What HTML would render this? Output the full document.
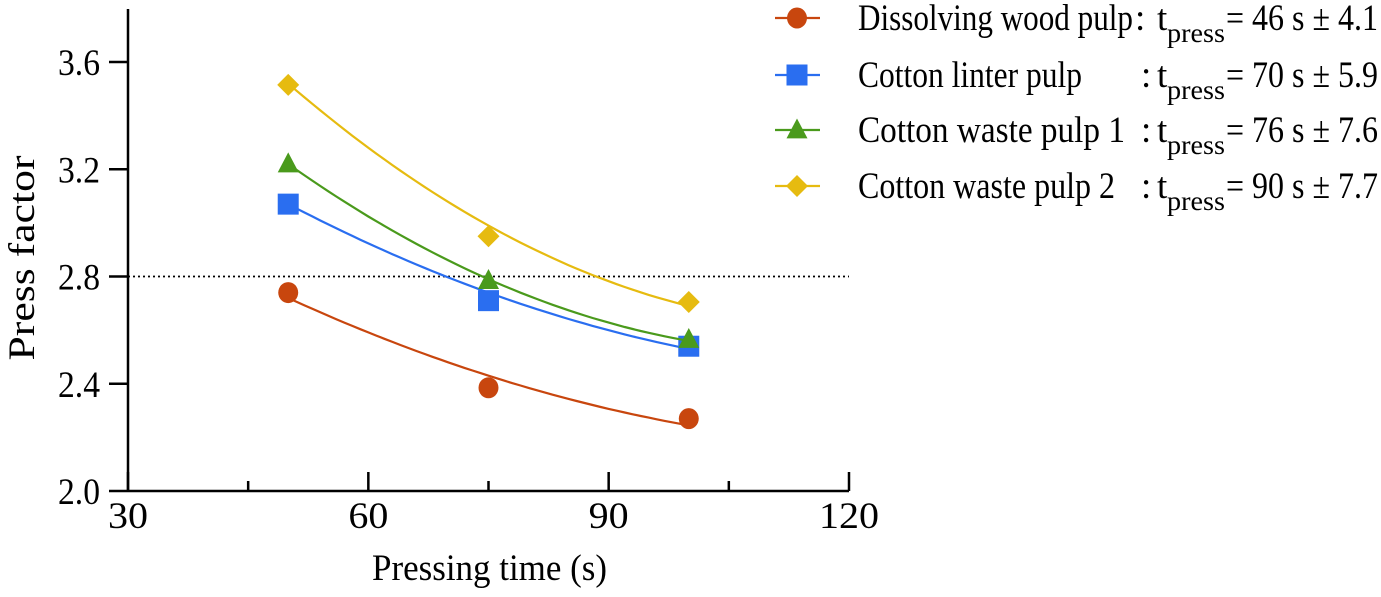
<!DOCTYPE html>
<html><head><meta charset="utf-8"><style>
body{margin:0;background:#fff;}
svg{display:block;font-family:"Liberation Serif",serif;}
</style></head><body>
<svg id="c" width="1381" height="597"></svg>
<script>
const categories=[50,75,100];
const seriesNames=["Dissolving wood pulp","Cotton linter pulp","Cotton waste pulp 1","Cotton waste pulp 2"];
const pointsOrange=[2.74,2.385,2.27];
const pointsBlue=[3.07,2.71,2.54];
const pointsGreen=[3.22,2.785,2.565];
const pointsYellow=[3.515,2.95,2.705];
const fitOrange=[2.72,2.43,2.245];
const fitBlue=[3.07,2.74,2.53];
const fitGreen=[3.22,2.79,2.56];
const fitYellow=[3.52,2.99,2.69];
const tpressVals=["46 s ± 4.1","70 s ± 5.9","76 s ± 7.6","90 s ± 7.7"];
const xTicks=[30,60,90,120];
const xMinor=[45,75,105];
const yTicks=[2.0,2.4,2.8,3.2,3.6];
const threshold=[2.8];

const NS="http://www.w3.org/2000/svg";
const svg=document.getElementById('c');
const X=v=>128+(v-30)*(721/90);
const Y=v=>491-(v-2)*268.1;
function el(t,a,p){const e=document.createElementNS(NS,t);for(const k in a)e.setAttribute(k,a[k]);(p||svg).appendChild(e);return e;}
const FS=37;
let a=el('line',{x1:128,y1:9,x2:128,y2:491,stroke:'#000','stroke-width':2.5});


a=el('line',{x1:128,y1:491,x2:849,y2:491,stroke:'#000','stroke-width':2.5});


xTicks.forEach(v=>{
 let t=el('line',{x1:X(v),y1:491,x2:X(v),y2:472,stroke:'#000','stroke-width':2.5});
 
 
 const s=String(v);
 let l=el('text',{x:X(v),y:528,'font-size':FS,'text-anchor':'middle',textLength:s.length*20,lengthAdjust:'spacingAndGlyphs'});l.textContent=s;
 
 
});
xMinor.forEach(v=>{
 let t=el('line',{x1:X(v),y1:491,x2:X(v),y2:481,stroke:'#000','stroke-width':2.5});
 
 
});
yTicks.forEach(v=>{
 let t=el('line',{x1:109,y1:Y(v),x2:128,y2:Y(v),stroke:'#000','stroke-width':2.5});
 
 
 let l=el('text',{x:100,y:Y(v)+13,'font-size':FS,'text-anchor':'end',textLength:42,lengthAdjust:'spacingAndGlyphs'});l.textContent=v.toFixed(1);
 
 
});
let tx=el('text',{x:372,y:580,'font-size':FS,textLength:235,lengthAdjust:'spacingAndGlyphs'});tx.textContent='Pressing time (s)';


let ty=el('text',{x:0,y:0,'font-size':FS,'text-anchor':'middle',textLength:205,lengthAdjust:'spacingAndGlyphs',transform:'translate(34,258) rotate(-90)'});ty.textContent='Press factor';


let th=el('line',{x1:128,y1:Y(threshold[0]),x2:849,y2:Y(threshold[0]),stroke:'#000','stroke-width':1.8,'stroke-dasharray':'2,3'});



const colors=['#c8460e','#2a6ef0','#4a9a1c','#e6bb10'];
const pts=[pointsOrange,pointsBlue,pointsGreen,pointsYellow];
const fits=[fitOrange,fitBlue,fitGreen,fitYellow];
const shapes=['circle','square','triangle','diamond'];
const nameLen=[275,224,267,257];
function marker(shape,cx,cy,c,sz){
 if(shape==='circle')return el('ellipse',{cx:cx,cy:cy,rx:sz*0.95,ry:sz,fill:c});
 if(shape==='square')return el('rect',{x:cx-sz,y:cy-sz,width:2*sz,height:2*sz,fill:c});
 if(shape==='triangle')return el('polygon',{points:`${cx},${cy-sz*1.1} ${cx+sz},${cy+sz*0.8} ${cx-sz},${cy+sz*0.8}`,fill:c});
 return el('polygon',{points:`${cx},${cy-sz} ${cx+sz},${cy} ${cx},${cy+sz} ${cx-sz},${cy}`,fill:c});
}
function quad(f,x){const [x0,x1,x2]=categories;const [y0,y1,y2]=f;
 return y0*(x-x1)*(x-x2)/((x0-x1)*(x0-x2))+y1*(x-x0)*(x-x2)/((x1-x0)*(x1-x2))+y2*(x-x0)*(x-x1)/((x2-x0)*(x2-x1));}
pts.forEach((p,i)=>{
 let d='';
 for(let x=categories[0];x<=categories[2]+0.01;x+=1){d+=(d?'L':'M')+X(x).toFixed(1)+','+Y(quad(fits[i],x)).toFixed(1);}
 let pa=el('path',{d:d,fill:'none',stroke:colors[i],'stroke-width':2.2});
 
 
 p.forEach((v,j)=>{
  let m=marker(shapes[i],X(categories[j]),Y(v),colors[i],shapes[i]==='diamond'?11:10.5);
  
  
 });
 const ly=[18,75,130,186][i];
 let g=el('g',{});
 
 
 el('line',{x1:775,y1:ly,x2:820,y2:ly,stroke:colors[i],'stroke-width':2.2},g);
 const mk=marker(shapes[i],797,ly,colors[i],shapes[i]==='diamond'?11:10.5);g.appendChild(mk);
 let t=el('text',{x:858,y:ly+12,'font-size':FS,textLength:nameLen[i],lengthAdjust:'spacingAndGlyphs'},g);t.textContent=seriesNames[i];
 let c=el('text',{x:i===0?1135:1141,y:ly+12,'font-size':FS},g);c.textContent=':';
 let t1=el('text',{x:1157,y:ly+12,'font-size':FS},g);t1.textContent='t';
 let t2=el('text',{x:1167,y:ly+24,'font-size':27,textLength:58,lengthAdjust:'spacingAndGlyphs'},g);t2.textContent='press';
 let t3=el('text',{x:1226,y:ly+12,'font-size':FS,textLength:152,lengthAdjust:'spacingAndGlyphs'},g);t3.textContent='= '+tpressVals[i];
});
</script>
</body></html>
